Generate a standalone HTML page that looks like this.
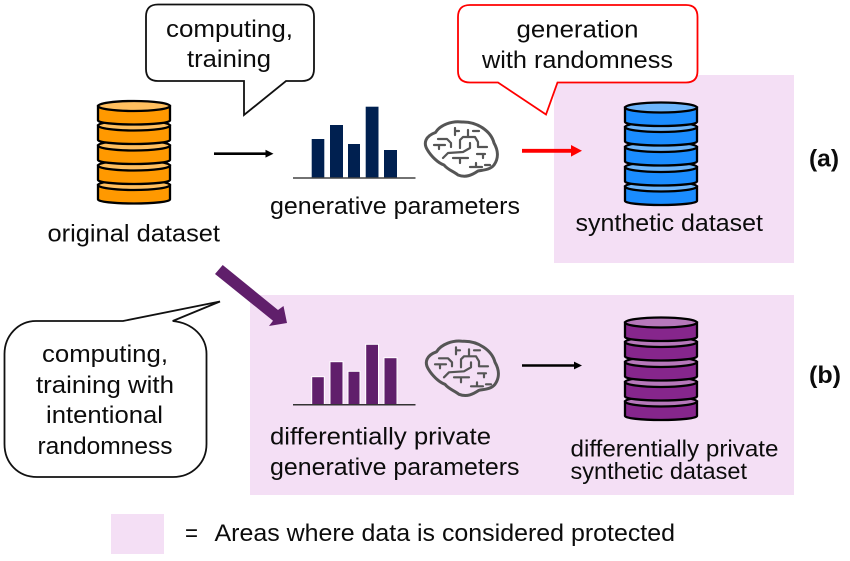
<!DOCTYPE html>
<html><head><meta charset="utf-8"><style>
html,body{margin:0;padding:0;background:#fff}
svg{display:block}
text{font-family:"Liberation Sans",sans-serif;font-size:24.5px;fill:#0c0c0c}
.b{font-weight:bold}
.s{font-size:23.5px}
</style></head><body>
<svg width="850" height="561" viewBox="0 0 850 561" xmlns="http://www.w3.org/2000/svg">
<defs>
<g id="seg" stroke="#000" stroke-width="2.3">
<path d="M98 0v14.500a36 4 0 0 0 72 0V0z" fill="var(--a)"/>
<ellipse cx="134" cy="0" rx="36" ry="5" fill="var(--b)"/>
</g>
<g id="db">
<use href="#seg" y="185"/>
<use href="#seg" y="165.500"/>
<use href="#seg" y="145.500"/>
<use href="#seg" y="125.500"/>
<use href="#seg" y="106"/>
</g>
<g id="brain" fill="none" stroke="#555" stroke-linecap="round" stroke-linejoin="round">
<path stroke-width="3" d="M427.500 150C423 143 425.500 136 435.500 132.500C440 125 452 120.500 462 122C477 121.500 491 131 494 143C498 150 499 158 494 165C490 170 483 170 478 171C472 175 466 178 458 175C453 171 448 170 444 165C438 163 431 156 427.500 150Z"/>
<path stroke-width="2.2" d="M434 145H445M439 145V149M438 139H447L451 143V147M455 128V135M455 131H459M460 148V140L463 137H475L478 142V147H487M468 130V137M473 131H479M443 158L448 153L463 152L470 148V143M453 158H468M460 158V163M477 154H485M483 154V158M470 167H482M476 163V167M485 165H490"/>
</g>
</defs>

<rect x="554" y="75" width="240" height="188" fill="#f4dff5"/>
<rect x="250" y="295" width="544" height="200" fill="#f4dff5"/>
<rect x="111" y="514" width="53" height="40" fill="#f4dff5"/>

<!-- callouts -->
<path d="M158 4.500H302Q314 4.500 314 16.500V69Q314 81 302 81H286L244 115V81H158Q146 81 146 69V16.500Q146 4.500 158 4.500Z" fill="#fff" stroke="#111" stroke-width="1.800"/>
<path d="M470 5H686Q697.500 5 697.500 17V71Q697.500 82.500 686 82.500H557.500L546 114.500L498 82.500H470Q458 82.500 458 71V17Q458 5 470 5Z" fill="#fff" stroke="#f00" stroke-width="1.800"/>
<path d="M36 321H123L220 301.500L172.700 321C193 323 206.500 337 206.500 354V444C206.500 463 192 477 173 477H37C18 477 4.500 463 4.500 444V354C4.500 336 18 321 36 321Z" fill="#fff" stroke="#111" stroke-width="1.800"/>

<!-- dbs -->
<g style="--a:#ff9900;--b:#ffbf5f"><use href="#db"/></g>
<g style="--a:#1a8cff;--b:#6db5fb"><use href="#db" x="527" y="1.500"/></g>
<g style="--a:#86268c;--b:#b778bb"><use href="#db" x="527" y="216.500"/></g>

<!-- arrows -->
<path d="M214 153.700H267" stroke="#000" stroke-width="2.600"/><path d="M265.500 149.800L273.500 153.700L265.500 157.600Z" fill="#000"/>
<path d="M522 150.800H573" stroke="#f00" stroke-width="3.800"/><path d="M571 145L582 150.800L571 156.600Z" fill="#f00"/>
<path d="M522 365.500H575" stroke="#000" stroke-width="2.600"/><path d="M574 361.600L582 365.500L574 369.400Z" fill="#000"/>
<path d="M222.700 265L278 310L283.500 306L287 323L269 326L273 320.700L215 274Z" fill="#601f6b"/>

<!-- bars navy -->
<g fill="#002050">
<rect x="311.700" y="139" width="12.600" height="39"/>
<rect x="330" y="125" width="13" height="53"/>
<rect x="348" y="144" width="12" height="34"/>
<rect x="365.700" y="106.700" width="12.800" height="71.300"/>
<rect x="384" y="150" width="13" height="28"/>
</g>
<path d="M293 178H415.500" stroke="#444" stroke-width="1.500"/>
<!-- bars purple -->
<g fill="#601f6b" stroke="#fff" stroke-width="1">
<rect x="311.700" y="376.700" width="12.600" height="28"/>
<rect x="330" y="361.700" width="13" height="43"/>
<rect x="348" y="371.300" width="12" height="33.400"/>
<rect x="365.700" y="344.300" width="12.800" height="60.400"/>
<rect x="384" y="357.700" width="13" height="47"/>
</g>
<path d="M293 404.800H415.500" stroke="#333" stroke-width="1.500"/>

<use href="#brain"/>
<use href="#brain" x="1" y="219.300"/>

<!-- text -->
<text x="166" y="37" textLength="127" lengthAdjust="spacingAndGlyphs">computing,</text>
<text x="187" y="67" textLength="84" lengthAdjust="spacingAndGlyphs">training</text>
<text x="47.500" y="241.500" textLength="172.500" lengthAdjust="spacingAndGlyphs">original dataset</text>
<text x="270" y="214" textLength="250" lengthAdjust="spacingAndGlyphs">generative parameters</text>
<text x="516.500" y="37.500" textLength="122" lengthAdjust="spacingAndGlyphs">generation</text>
<text x="482" y="68" textLength="191" lengthAdjust="spacingAndGlyphs">with randomness</text>
<text x="575.500" y="231" textLength="187.500" lengthAdjust="spacingAndGlyphs">synthetic dataset</text>
<text class="b" x="809" y="166.500" textLength="30" lengthAdjust="spacingAndGlyphs">(a)</text>
<text x="42" y="362" textLength="126" lengthAdjust="spacingAndGlyphs">computing,</text>
<text x="36" y="393" textLength="138" lengthAdjust="spacingAndGlyphs">training with</text>
<text x="46" y="423" textLength="117" lengthAdjust="spacingAndGlyphs">intentional</text>
<text x="37.500" y="454" textLength="135" lengthAdjust="spacingAndGlyphs">randomness</text>
<text x="270" y="444.500" textLength="221" lengthAdjust="spacingAndGlyphs">differentially private</text>
<text x="270" y="475" textLength="249.500" lengthAdjust="spacingAndGlyphs">generative parameters</text>
<text class="s" x="570.500" y="456.500" textLength="208" lengthAdjust="spacingAndGlyphs">differentially private</text>
<text class="s" x="570.500" y="479" textLength="176.500" lengthAdjust="spacingAndGlyphs">synthetic dataset</text>
<text class="b" x="809" y="383" textLength="32" lengthAdjust="spacingAndGlyphs">(b)</text>
<text x="185" y="541" textLength="13" lengthAdjust="spacingAndGlyphs">=</text>
<text x="214.500" y="541" textLength="460.500" lengthAdjust="spacingAndGlyphs">Areas where data is considered protected</text>
</svg>
</body></html>
